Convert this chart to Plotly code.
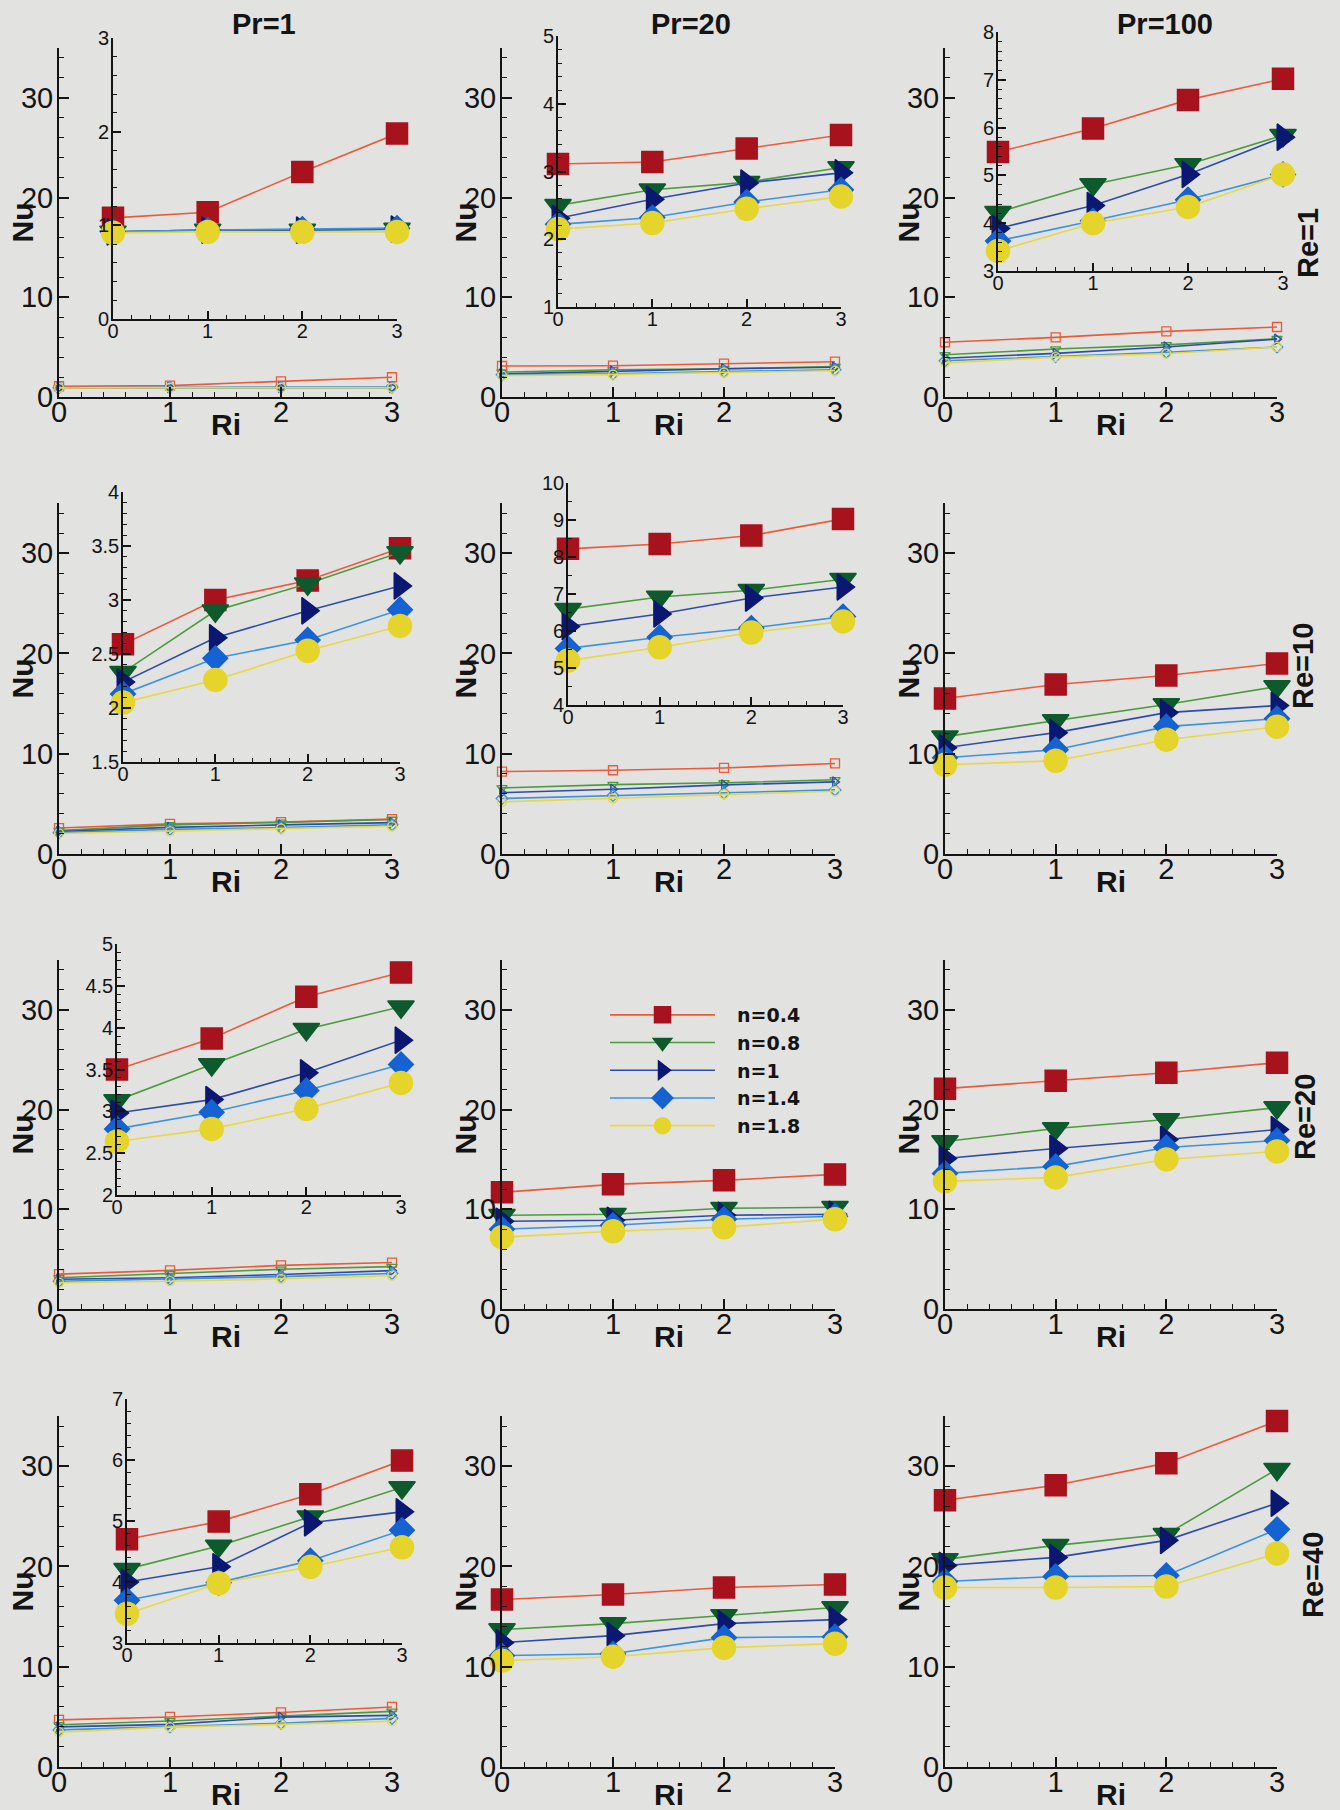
import plotly.graph_objects as go

W, H = 1340, 1810

# ---------------- data ----------------
RI = [0, 1, 2, 3]
N_LABELS = ['n=0.4', 'n=0.8', 'n=1', 'n=1.4', 'n=1.8']
PR_LABELS = ['Pr=1', 'Pr=20', 'Pr=100']
RE_LABELS = ['Re=1', 'Re=10', 'Re=20', 'Re=40']

# Nu vs Ri, one list per n (0.4, 0.8, 1, 1.4, 1.8)
NU_RE1_PR1 = [[1.08, 1.14, 1.57, 1.98],
              [0.93, 0.95, 0.95, 0.96],
              [0.93, 0.95, 0.95, 0.96],
              [0.93, 0.95, 0.96, 0.97],
              [0.92, 0.93, 0.93, 0.93]]
NU_RE1_PR20 = [[3.11, 3.14, 3.34, 3.54],
               [2.50, 2.73, 2.84, 3.06],
               [2.31, 2.59, 2.83, 2.98],
               [2.22, 2.32, 2.55, 2.73],
               [2.15, 2.24, 2.45, 2.63]]
NU_RE1_PR100 = [[5.49, 5.98, 6.58, 7.02],
                [4.23, 4.81, 5.23, 5.84],
                [3.89, 4.37, 5.02, 5.80],
                [3.63, 4.05, 4.49, 5.02],
                [3.42, 4.00, 4.34, 5.02]]
NU_RE10_PR1 = [[2.59, 3.00, 3.18, 3.48],
               [2.33, 2.90, 3.15, 3.44],
               [2.24, 2.65, 2.90, 3.13],
               [2.13, 2.46, 2.63, 2.91],
               [2.05, 2.26, 2.53, 2.76]]
NU_RE10_PR20 = [[8.22, 8.35, 8.58, 9.03],
                [6.59, 6.92, 7.10, 7.40],
                [6.12, 6.46, 6.89, 7.19],
                [5.53, 5.83, 6.08, 6.39],
                [5.20, 5.56, 5.96, 6.26]]
NU_RE10_PR100 = [[15.5, 16.9, 17.8, 19.0],
                 [11.7, 13.3, 14.9, 16.7],
                 [10.6, 12.1, 14.1, 14.8],
                 [9.6, 10.4, 12.7, 13.5],
                 [8.9, 9.3, 11.4, 12.7]]
NU_RE20_PR1 = [[3.50, 3.87, 4.37, 4.66],
               [3.13, 3.56, 3.98, 4.25],
               [2.98, 3.14, 3.46, 3.85],
               [2.79, 2.99, 3.25, 3.56],
               [2.64, 2.79, 3.03, 3.34]]
NU_RE20_PR20 = [[11.7, 12.5, 12.9, 13.5],
                [9.4, 9.5, 10.1, 10.2],
                [8.8, 8.9, 9.4, 9.5],
                [8.0, 8.4, 9.0, 9.3],
                [7.2, 7.8, 8.2, 9.0]]
NU_RE20_PR100 = [[22.1, 22.9, 23.7, 24.7],
                 [16.8, 18.1, 19.0, 20.2],
                 [15.1, 16.1, 17.0, 18.0],
                 [13.6, 14.3, 16.2, 16.9],
                 [12.8, 13.2, 15.0, 15.8]]
NU_RE40_PR1 = [[4.70, 4.99, 5.44, 5.99],
               [4.21, 4.59, 5.07, 5.55],
               [4.00, 4.25, 4.97, 5.15],
               [3.70, 3.99, 4.35, 4.85],
               [3.48, 3.98, 4.25, 4.57]]
NU_RE40_PR20 = [[16.7, 17.2, 17.9, 18.2],
                [13.7, 14.3, 15.1, 15.9],
                [12.4, 13.1, 14.3, 14.7],
                [11.1, 11.3, 12.9, 13.0],
                [10.6, 11.0, 11.9, 12.3]]
NU_RE40_PR100 = [[26.6, 28.1, 30.3, 34.5],
                 [20.7, 22.1, 23.2, 29.7],
                 [20.1, 20.9, 22.6, 26.3],
                 [18.5, 19.0, 19.1, 23.7],
                 [17.9, 17.9, 18.0, 21.3]]

# ---------------- styling ----------------
MARKER_COLORS = ['#a8121c', '#0e5a2c', '#0b1872', '#1562d2', '#e4d42c']
LINE_COLORS = ['#ec5a3a', '#4c9c3c', '#2c4caa', '#3a92e4', '#e8d844']
SYMBOLS = ['square', 'triangle-down', 'triangle-right', 'diamond', 'circle']
BIG_SIZES = [21, 23, 23, 19, 23]
FONT = 'Liberation Sans'
LEGEND_FONT = 'DejaVu Sans'
INK = '#141414'
BG = '#e2e2e0'

COLS_PX = [(59, 392), (502, 835), (945, 1277)]
ROWS_PX = [(48, 397), (503, 854), (960, 1309), (1416, 1767)]

# (row, col, data, inset spec)  inset spec: (x0, x1, ytop, ybottom, range, dtick, minor)
PANELS = [
    (0, 0, NU_RE1_PR1, (113, 397, 38, 319, [0, 3], 1, 0.2)),
    (0, 1, NU_RE1_PR20, (558, 841, 36, 307, [1, 5], 1, 0.2)),
    (0, 2, NU_RE1_PR100, (998, 1283, 32, 271, [3, 8], 1, 0.2)),
    (1, 0, NU_RE10_PR1, (123, 400, 492, 762, [1.5, 4], 0.5, 0.1)),
    (1, 1, NU_RE10_PR20, (568, 843, 483, 705, [4, 10], 1, 0.5)),
    (1, 2, NU_RE10_PR100, None),
    (2, 0, NU_RE20_PR1, (117, 401, 944, 1195, [2, 5], 0.5, 0.1)),
    (2, 1, NU_RE20_PR20, None),
    (2, 2, NU_RE20_PR100, None),
    (3, 0, NU_RE40_PR1, (127, 402, 1399, 1643, [3, 7], 1, 0.2)),
    (3, 1, NU_RE40_PR20, None),
    (3, 2, NU_RE40_PR100, None),
]

fig = go.Figure()
layout = {}
annotations = []
axis_counter = [0]


def fx(px):
    return px / W


def fy(py):
    return 1 - py / H


def axis_style(rng, dtick, minor_dtick, fs, tlen, mlen, lw, standoff):
    return dict(range=rng, dtick=dtick, tick0=rng[0], showline=True, linecolor=INK,
                linewidth=lw, ticks='inside', ticklen=tlen, tickwidth=lw, tickcolor=INK,
                showgrid=False, zeroline=False, fixedrange=True, automargin=False,
                ticklabelstandoff=standoff,
                tickfont=dict(family=FONT, size=fs, color=INK),
                minor=dict(ticks='inside', ticklen=mlen, tickwidth=1.4, tickcolor=INK,
                           dtick=minor_dtick, tick0=rng[0], showgrid=False))


def new_axes(x0, x1, ytop, ybot, xcfg, ycfg):
    axis_counter[0] += 1
    k = axis_counter[0]
    xn = 'xaxis' if k == 1 else f'xaxis{k}'
    yn = 'yaxis' if k == 1 else f'yaxis{k}'
    xid = 'x' if k == 1 else f'x{k}'
    yid = 'y' if k == 1 else f'y{k}'
    xcfg = dict(xcfg, domain=[fx(x0), fx(x1)], anchor=yid)
    ycfg = dict(ycfg, domain=[fy(ybot), fy(ytop)], anchor=xid)
    layout[xn] = xcfg
    layout[yn] = ycfg
    return xid, yid


def add_series(data, xid, yid, big, legend):
    for i, vals in enumerate(data):
        if big:
            marker = dict(symbol=SYMBOLS[i], size=BIG_SIZES[i], color=MARKER_COLORS[i],
                          line=dict(color=MARKER_COLORS[i], width=1.5))
        else:
            marker = dict(symbol=SYMBOLS[i] + '-open', size=9, color=LINE_COLORS[i],
                          line=dict(color=LINE_COLORS[i], width=1.3))
        fig.add_trace(go.Scatter(
            x=RI, y=vals, xaxis=xid, yaxis=yid, mode='lines+markers',
            line=dict(color=LINE_COLORS[i], width=1.6), marker=marker,
            name='\u00a0\u00a0\u2009' + N_LABELS[i], showlegend=legend, cliponaxis=False,
            hoverinfo='x+y+name'))


def label(text, px, py, size, angle=0):
    annotations.append(dict(text=f'<b>{text}</b>', x=fx(px), y=fy(py), xref='paper',
                            yref='paper', xanchor='center', yanchor='middle',
                            showarrow=False, textangle=angle,
                            font=dict(family=FONT, size=size, color=INK)))


for (r, c, data, inset) in PANELS:
    x0, x1 = COLS_PX[c]
    ytop, ybot = ROWS_PX[r]
    xid, yid = new_axes(x0, x1, ytop, ybot,
                        axis_style([0, 3], 1, 0.2, 29, 10, 5, 2, -12),
                        axis_style([0, 35], 10, 2, 29, 10, 5, 2, -2))
    legend_here = (r == 2 and c == 1)
    add_series(data, xid, yid, big=(inset is None), legend=legend_here)
    # axis titles
    label('Nu', x0 - 37, (ytop + ybot) / 2, 30, -90)
    label('Ri', (x0 + x1) / 2, ybot + 27, 30)
    if inset is not None:
        ix0, ix1, iyt, iyb, rng, dt, mdt = inset
        ixid, iyid = new_axes(ix0, ix1, iyt, iyb,
                              axis_style([0, 3], 1, 0.2, 20, 8, 4, 1.6, -7),
                              axis_style(rng, dt, mdt, 20, 8, 4, 1.6, -2))
        add_series(data, ixid, iyid, big=True, legend=False)

# column titles
for (txt, cx) in zip(PR_LABELS, [264, 691, 1165]):
    label(txt, cx, 24, 29)
# row labels
for (txt, cx, cy) in zip(RE_LABELS, [1308, 1303, 1305, 1313], [243, 666, 1117, 1575]):
    label(txt, cx, cy, 29, -90)

layout.update(dict(
    width=W, height=H, margin=dict(l=0, r=0, t=0, b=0, pad=0, autoexpand=False),
    paper_bgcolor=BG, plot_bgcolor='rgba(0,0,0,0)',
    annotations=annotations,
    showlegend=True,
    legend=dict(x=fx(605), y=fy(996), xanchor='left', yanchor='top',
                bgcolor='rgba(0,0,0,0)', borderwidth=0, itemwidth=105,
                font=dict(family=LEGEND_FONT, size=19, color=INK, weight='bold'),
                itemclick=False, itemdoubleclick=False),
))
fig.update_layout(**layout)
fig.write_html('out.html', config={'displayModeBar': False},
               post_script="document.body.style.margin='0px';"
                           "document.body.style.overflow='hidden';"
                           "document.body.style.background='" + BG + "';")
